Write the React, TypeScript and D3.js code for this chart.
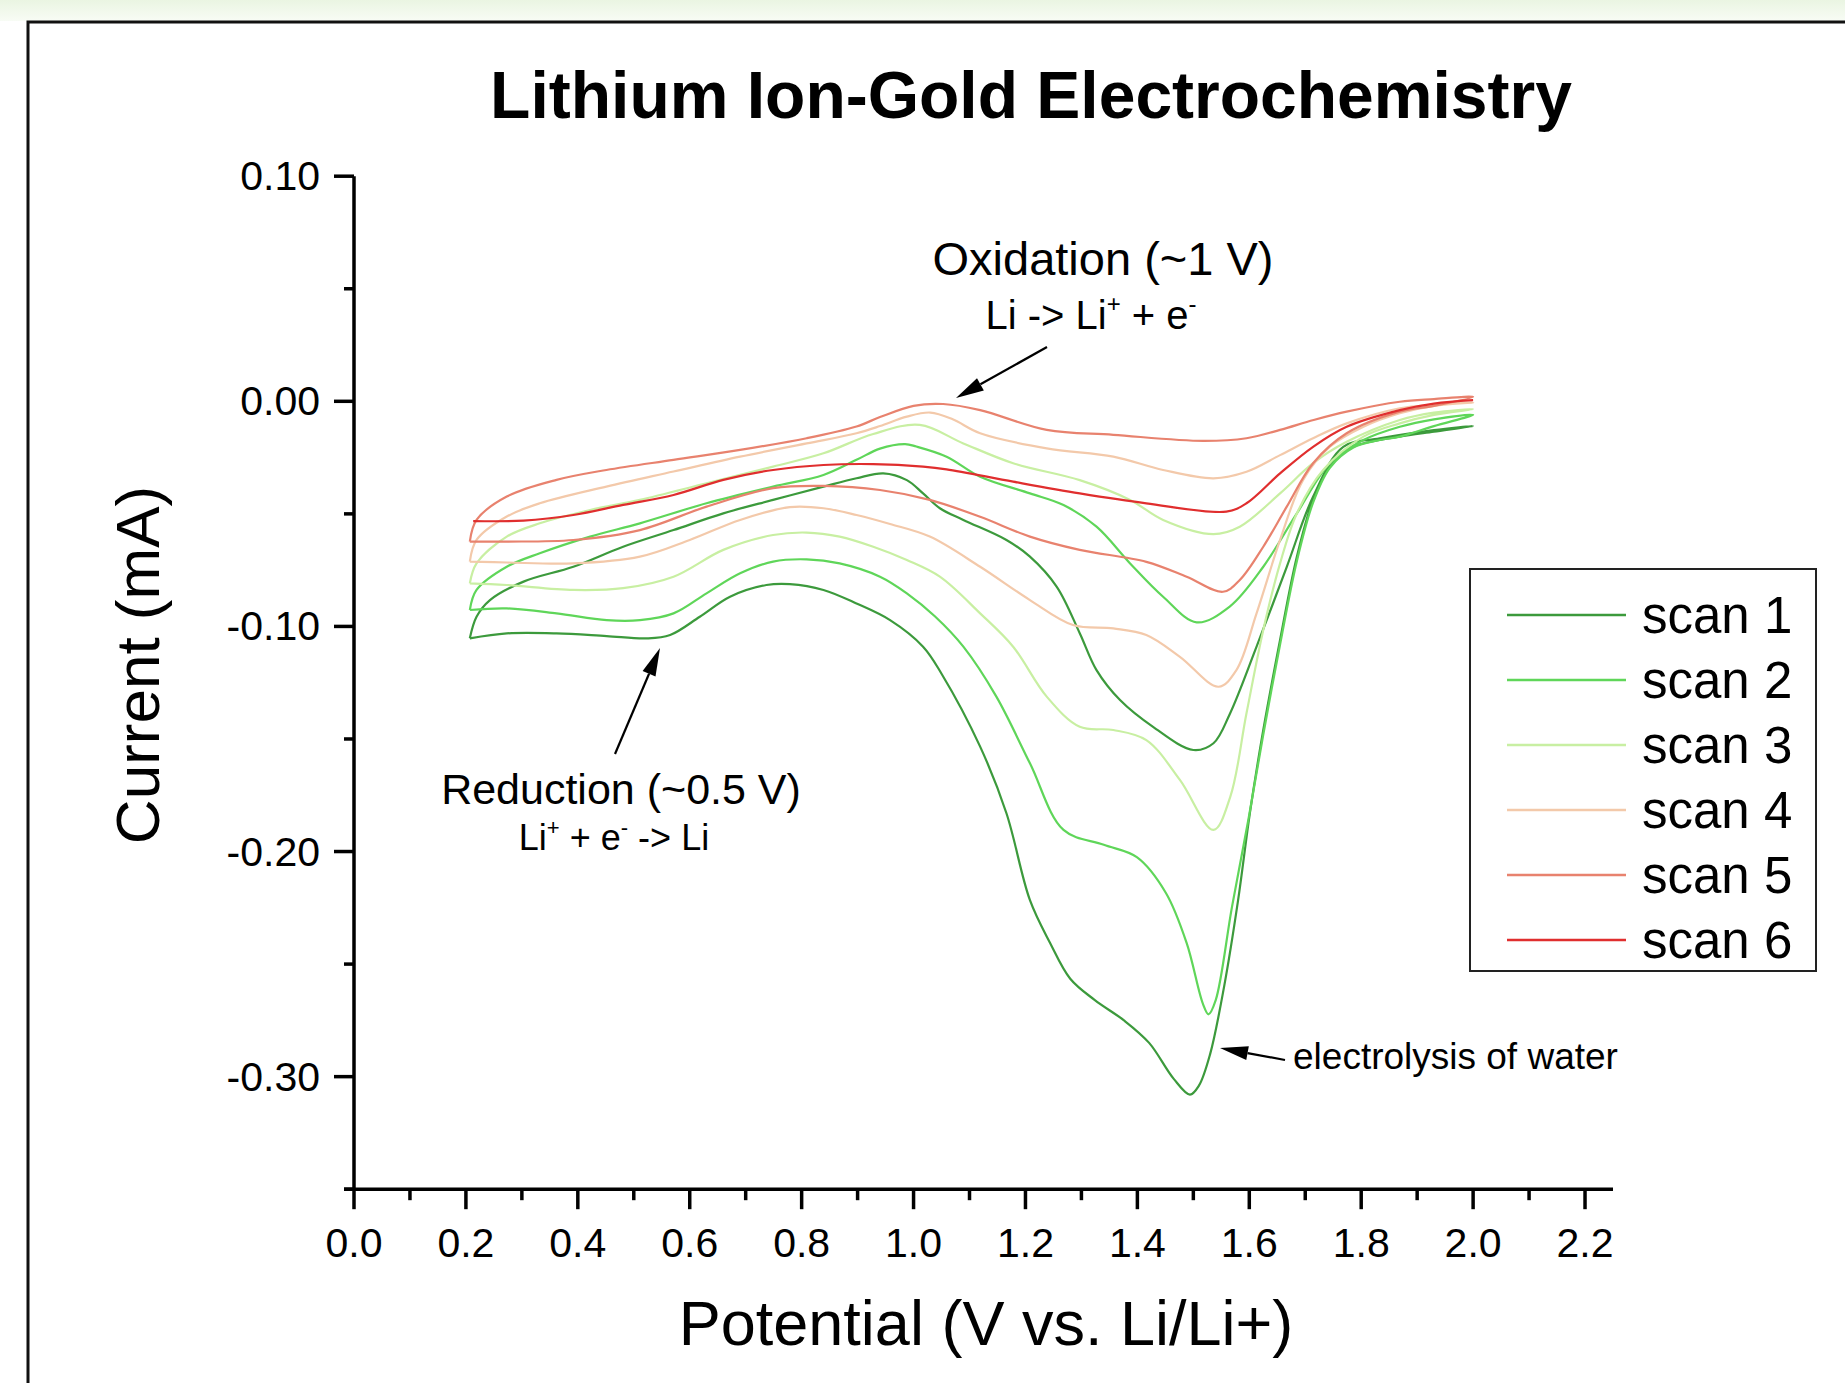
import React, { useEffect } from "react";
import * as d3 from "d3";

type Pt = [number, number];

// Potential (V) / current (mA) pairs for each cyclic scan.
// "fwd" runs 0.2 V -> 2.0 V, "rev" runs back 2.0 V -> 0.2 V.
const scan1Fwd: Pt[] = [
  [0.207, -0.1053], [0.219, -0.0957], [0.243, -0.0883], [0.303, -0.0801], [0.392, -0.0735],
  [0.481, -0.0646], [0.571, -0.0572], [0.66, -0.0498], [0.749, -0.0438], [0.839, -0.0379],
  [0.898, -0.0342], [0.946, -0.032], [0.988, -0.035], [1.017, -0.0409], [1.047, -0.0475],
  [1.089, -0.0527], [1.166, -0.0616], [1.208, -0.069], [1.256, -0.0824], [1.297, -0.103],
  [1.327, -0.1194], [1.369, -0.1327], [1.428, -0.1446], [1.5, -0.1549], [1.536, -0.1519],
  [1.565, -0.139], [1.613, -0.109], [1.667, -0.0735], [1.714, -0.0424], [1.768, -0.0202],
  [1.833, -0.0165], [1.93, -0.0128], [2.0, -0.011],
];
const scan1Rev: Pt[] = [
  [2.0, -0.011], [1.93, -0.0135], [1.869, -0.0157], [1.833, -0.0172], [1.786, -0.0202],
  [1.744, -0.029], [1.714, -0.0438], [1.685, -0.069], [1.655, -0.106], [1.625, -0.146],
  [1.601, -0.183], [1.58, -0.2216], [1.555, -0.26], [1.53, -0.29], [1.51, -0.304],
  [1.494, -0.308], [1.465, -0.301], [1.421, -0.285], [1.376, -0.275], [1.324, -0.266],
  [1.28, -0.2565], [1.244, -0.2406], [1.208, -0.2216], [1.166, -0.183], [1.119, -0.1534],
  [1.05, -0.121], [1.017, -0.109], [0.958, -0.0972], [0.898, -0.0898], [0.839, -0.0838],
  [0.779, -0.0812], [0.737, -0.0816], [0.672, -0.0868], [0.618, -0.0957], [0.565, -0.1038],
  [0.523, -0.1053], [0.4515, -0.1043], [0.362, -0.1031], [0.273, -0.1031], [0.207, -0.1053],
];

const scan2Fwd: Pt[] = [
  [0.207, -0.0927], [0.219, -0.0838], [0.273, -0.0735], [0.332, -0.0675], [0.422, -0.0601],
  [0.511, -0.0542], [0.63, -0.0453], [0.749, -0.0379], [0.839, -0.0327], [0.898, -0.026],
  [0.94, -0.021], [0.985, -0.019], [1.005, -0.0201], [1.059, -0.0246], [1.119, -0.0335],
  [1.208, -0.0409], [1.268, -0.0461], [1.327, -0.0557], [1.387, -0.072], [1.446, -0.0868],
  [1.506, -0.0982], [1.565, -0.0912], [1.625, -0.0735], [1.685, -0.0498], [1.744, -0.0275],
  [1.804, -0.0172], [1.869, -0.0113], [1.93, -0.008], [2.0, -0.006],
];
const scan2Rev: Pt[] = [
  [2.0, -0.006], [1.93, -0.011], [1.869, -0.0157], [1.833, -0.0172], [1.786, -0.0205],
  [1.744, -0.0295], [1.714, -0.045], [1.685, -0.071], [1.655, -0.108], [1.625, -0.148],
  [1.599, -0.185], [1.569, -0.2247], [1.54, -0.266], [1.527, -0.2723], [1.517, -0.2676],
  [1.488, -0.2406], [1.451, -0.2184], [1.399, -0.2025], [1.34, -0.197], [1.268, -0.1904],
  [1.208, -0.1608], [1.148, -0.1312], [1.089, -0.109], [1.038, -0.0955], [0.988, -0.0853],
  [0.94, -0.0779], [0.868, -0.072], [0.809, -0.0702], [0.749, -0.0712], [0.69, -0.0764],
  [0.63, -0.0853], [0.571, -0.0942], [0.511, -0.0972], [0.4515, -0.0972], [0.362, -0.0942],
  [0.273, -0.092], [0.207, -0.0927],
];

const scan3Fwd: Pt[] = [
  [0.207, -0.0809], [0.219, -0.072], [0.273, -0.0601], [0.332, -0.0542], [0.422, -0.0483],
  [0.511, -0.0438], [0.63, -0.0364], [0.749, -0.029], [0.839, -0.0231], [0.928, -0.0145],
  [1.011, -0.0105], [1.089, -0.0187], [1.178, -0.0275], [1.297, -0.035], [1.387, -0.0438],
  [1.446, -0.0527], [1.536, -0.059], [1.583, -0.0557], [1.655, -0.0409], [1.714, -0.0275],
  [1.774, -0.018], [1.869, -0.0083], [1.93, -0.005], [2.0, -0.0035],
];
const scan3Rev: Pt[] = [
  [2.0, -0.0035], [1.93, -0.006], [1.869, -0.0098], [1.804, -0.0157], [1.732, -0.0305],
  [1.685, -0.0498], [1.655, -0.072], [1.625, -0.1016], [1.595, -0.1386], [1.566, -0.1757],
  [1.536, -0.1904], [1.476, -0.1682], [1.416, -0.1505], [1.357, -0.146], [1.297, -0.1446],
  [1.238, -0.1312], [1.178, -0.109], [1.119, -0.0942], [1.047, -0.0779], [0.988, -0.0705],
  [0.928, -0.0646], [0.868, -0.0601], [0.809, -0.0583], [0.749, -0.0594], [0.66, -0.066],
  [0.571, -0.0779], [0.481, -0.083], [0.392, -0.0838], [0.273, -0.0816], [0.207, -0.0809],
];

const scan4Fwd: Pt[] = [
  [0.207, -0.0712], [0.219, -0.0616], [0.273, -0.0512], [0.332, -0.0453], [0.451, -0.0379],
  [0.571, -0.0312], [0.69, -0.0246], [0.809, -0.0187], [0.898, -0.0142], [0.94, -0.011],
  [0.988, -0.0068], [1.03, -0.005], [1.07, -0.008], [1.119, -0.0142], [1.238, -0.0209],
  [1.357, -0.0246], [1.446, -0.0305], [1.536, -0.0342], [1.595, -0.0313], [1.655, -0.0239],
  [1.714, -0.0164], [1.774, -0.0098], [1.869, -0.0031], [1.93, -0.0015], [2.0, -0.0005],
];
const scan4Rev: Pt[] = [
  [2.0, -0.0005], [1.93, -0.002], [1.869, -0.0053], [1.804, -0.0113], [1.744, -0.0202],
  [1.696, -0.035], [1.655, -0.0616], [1.613, -0.0942], [1.577, -0.1194], [1.545, -0.1268],
  [1.476, -0.1135], [1.416, -0.1038], [1.357, -0.1009], [1.285, -0.0994], [1.208, -0.0883],
  [1.119, -0.0735], [1.029, -0.0601], [0.958, -0.0545], [0.898, -0.0505], [0.839, -0.0475],
  [0.779, -0.047], [0.69, -0.0527], [0.6, -0.0616], [0.511, -0.069], [0.392, -0.072],
  [0.273, -0.0716], [0.207, -0.0712],
];

const scan5Fwd: Pt[] = [
  [0.207, -0.0623], [0.219, -0.0527], [0.273, -0.0423], [0.362, -0.0349], [0.451, -0.0305],
  [0.571, -0.026], [0.69, -0.0216], [0.809, -0.0164], [0.898, -0.0112], [0.94, -0.007],
  [1.0, -0.002], [1.053, -0.0012], [1.119, -0.0039], [1.238, -0.0127], [1.357, -0.0149],
  [1.518, -0.0176], [1.595, -0.0164], [1.655, -0.0127], [1.715, -0.0083], [1.774, -0.0046],
  [1.869, -0.0002], [1.93, 0.001], [2.0, 0.002],
];
const scan5Rev: Pt[] = [
  [2.0, 0.002], [1.93, -0.002], [1.869, -0.0046], [1.774, -0.0142], [1.714, -0.0275],
  [1.667, -0.0468], [1.625, -0.0646], [1.583, -0.0794], [1.553, -0.0846], [1.488, -0.0779],
  [1.416, -0.0713], [1.297, -0.066], [1.208, -0.0601], [1.119, -0.0513], [1.029, -0.0438],
  [0.94, -0.0394], [0.839, -0.0376], [0.749, -0.0386], [0.63, -0.0468], [0.511, -0.0572],
  [0.392, -0.0616], [0.273, -0.0623], [0.207, -0.0623],
];

const scan6Fwd: Pt[] = [
  [0.213, -0.0532], [0.303, -0.053], [0.392, -0.0505], [0.481, -0.046], [0.571, -0.0416],
  [0.66, -0.0349], [0.749, -0.0305], [0.839, -0.0283], [0.928, -0.0279], [1.017, -0.029],
  [1.059, -0.0302], [1.178, -0.0357], [1.297, -0.0409], [1.416, -0.0453], [1.559, -0.049],
  [1.595, -0.0453], [1.655, -0.032], [1.714, -0.0202], [1.774, -0.0113], [1.869, -0.0039],
  [1.93, -0.001], [2.0, 0.0005],
];
const scan6Rev: Pt[] = [];

const scanNames = ["scan 1", "scan 2", "scan 3", "scan 4", "scan 5", "scan 6"];
const scanColors = ["#3c9a3c", "#5fd659", "#c8efa2", "#f3c9aa", "#e8826e", "#e02e2e"];
const scanData: Pt[][][] = [
  [scan1Fwd, scan1Rev],
  [scan2Fwd, scan2Rev],
  [scan3Fwd, scan3Rev],
  [scan4Fwd, scan4Rev],
  [scan5Fwd, scan5Rev],
  [scan6Fwd, scan6Rev],
];

const xMajorTicks = [0, 0.2, 0.4, 0.6, 0.8, 1.0, 1.2, 1.4, 1.6, 1.8, 2.0, 2.2];
const xMinorTicks = [0.1, 0.3, 0.5, 0.7, 0.9, 1.1, 1.3, 1.5, 1.7, 1.9, 2.1];
const yMajorTicks = [0.1, 0, -0.1, -0.2, -0.3];
const yMinorTicks = [0.05, -0.05, -0.15, -0.25, -0.35];

const W = 1845;
const H = 1383;
const FONT = "'Liberation Sans', Arial, Helvetica, sans-serif";

const x = d3.scaleLinear().domain([0, 2.25]).range([354, 1613]);
const y = d3.scaleLinear().domain([-0.35, 0.1]).range([1189.2, 176.2]);

const line = d3
  .line<Pt>()
  .x((d) => x(d[0]))
  .y((d) => y(d[1]))
  .curve(d3.curveCatmullRom.alpha(0.5));

function Arrow({ from, to }: { from: Pt; to: Pt }) {
  const [x1, y1] = from;
  const [x2, y2] = to;
  const ang = Math.atan2(y2 - y1, x2 - x1);
  const len = 28;
  const half = 7;
  const bx = x2 - len * Math.cos(ang);
  const by = y2 - len * Math.sin(ang);
  const nx = -Math.sin(ang);
  const ny = Math.cos(ang);
  const head = `M${x2},${y2} L${bx + nx * half},${by + ny * half} L${bx - nx * half},${by - ny * half} Z`;
  return (
    <g>
      <line x1={x1} y1={y1} x2={bx} y2={by} stroke="#000" strokeWidth={2.2} />
      <path d={head} fill="#000" />
    </g>
  );
}

export default function App() {
  useEffect(() => {
    document.body.style.margin = "0";
  }, []);

  const yFmt = (v: number) => (Math.abs(v) < 1e-9 ? "0.00" : v.toFixed(2));

  return (
    <svg
      width={W}
      height={H}
      viewBox={`0 0 ${W} ${H}`}
      style={{ position: "absolute", left: 0, top: 0, display: "block", background: "#fff" }}
      fontFamily={FONT}
    >
      <defs>
        <linearGradient id="topStrip" x1="0" y1="0" x2="0" y2="1">
          <stop offset="0" stopColor="#eaf5e2" />
          <stop offset="1" stopColor="#f8fcf5" />
        </linearGradient>
      </defs>
      <rect x={0} y={0} width={W} height={H} fill="#fff" />
      <rect x={0} y={0} width={W} height={21} fill="url(#topStrip)" />
      <path d={`M28,${H} V22 H${W}`} fill="none" stroke="#111" strokeWidth={3} />

      <text x={1031} y={118} textAnchor="middle" fontSize={66} fontWeight="bold" fill="#000">
        Lithium Ion-Gold Electrochemistry
      </text>

      {/* curves */}
      <g fill="none" strokeWidth={2.2} strokeLinejoin="round">
        {scanData.map((branches, i) => {
          const pts = branches[1].length ? branches[0].concat(branches[1].slice(1)) : branches[0];
          return <path key={scanNames[i]} d={line(pts) || ""} stroke={scanColors[i]} />;
        })}
      </g>

      {/* axes */}
      <g stroke="#000" strokeWidth={3.5}>
        <line x1={x(0)} x2={x(0)} y1={y(0.1)} y2={y(-0.35)} />
        <line x1={x(0) - 10} x2={x(2.25)} y1={y(-0.35)} y2={y(-0.35)} />
        {xMajorTicks.map((t) => (
          <line key={"xM" + t} x1={x(t)} x2={x(t)} y1={y(-0.35)} y2={y(-0.35) + 20} />
        ))}
        {xMinorTicks.map((t) => (
          <line key={"xm" + t} x1={x(t)} x2={x(t)} y1={y(-0.35)} y2={y(-0.35) + 11} />
        ))}
        {yMajorTicks.map((t) => (
          <line key={"yM" + t} x1={x(0) - 20} x2={x(0)} y1={y(t)} y2={y(t)} />
        ))}
        {yMinorTicks.map((t) => (
          <line key={"ym" + t} x1={x(0) - 10} x2={x(0)} y1={y(t)} y2={y(t)} />
        ))}
      </g>
      <g fontSize={41} fill="#000">
        {xMajorTicks.map((t) => (
          <text key={"xl" + t} x={x(t)} y={1257} textAnchor="middle">
            {t.toFixed(1)}
          </text>
        ))}
        {yMajorTicks.map((t) => (
          <text key={"yl" + t} x={320} y={y(t) + 14} textAnchor="end">
            {yFmt(t)}
          </text>
        ))}
      </g>

      <text x={986} y={1345} textAnchor="middle" fontSize={63} fill="#000">
        Potential (V vs. Li/Li+)
      </text>
      <text transform="translate(159,665) rotate(-90)" textAnchor="middle" fontSize={62} fill="#000">
        Current (mA)
      </text>

      {/* annotations */}
      <text x={1103} y={275} textAnchor="middle" fontSize={47} fill="#000">
        Oxidation (~1 V)
      </text>
      <text x={1091} y={329} textAnchor="middle" fontSize={40} fill="#000">
        Li -&gt; Li
        <tspan fontSize={24} dy={-17}>+</tspan>
        <tspan dy={17}> + e</tspan>
        <tspan fontSize={24} dy={-17}>-</tspan>
      </text>
      <Arrow from={[1047, 347]} to={[956, 398]} />

      <text x={621} y={804} textAnchor="middle" fontSize={43} fill="#000">
        Reduction (~0.5 V)
      </text>
      <text x={614} y={850} textAnchor="middle" fontSize={36} fill="#000">
        Li
        <tspan fontSize={22} dy={-15}>+</tspan>
        <tspan dy={15}> + e</tspan>
        <tspan fontSize={22} dy={-15}>-</tspan>
        <tspan dy={15}> -&gt; Li</tspan>
      </text>
      <Arrow from={[615, 754]} to={[660, 648]} />

      <text x={1293} y={1069} fontSize={37} fill="#000">
        electrolysis of water
      </text>
      <Arrow from={[1285, 1060]} to={[1220, 1048]} />

      {/* legend */}
      <rect x={1470} y={569} width={346} height={402} fill="#fff" stroke="#222" strokeWidth={2} />
      {scanNames.map((name, i) => {
        const ly = 615 + i * 65;
        return (
          <g key={name}>
            <line x1={1507} x2={1626} y1={ly} y2={ly} stroke={scanColors[i]} strokeWidth={2.5} />
            <text x={1642} y={ly + 18} fontSize={51} fill="#000">
              {name}
            </text>
          </g>
        );
      })}
    </svg>
  );
}
